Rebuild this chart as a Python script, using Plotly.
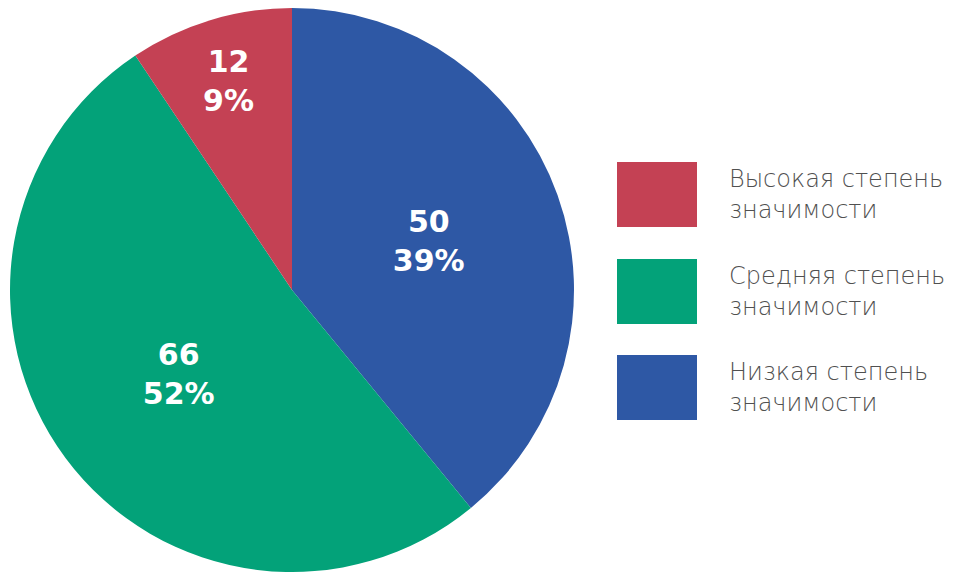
import plotly.graph_objects as go

labels = ["Низкая степень<br>значимости", "Средняя степень<br>значимости", "Высокая степень<br>значимости"]
values = [50, 66, 12]
colors = ["#2E58A5", "#03A279", "#C44154"]

W, H = 957, 572
T = 8

fig = go.Figure()
fig.add_trace(go.Pie(
    labels=labels,
    values=values,
    sort=False,
    direction="clockwise",
    rotation=0,
    marker=dict(colors=colors, line=dict(width=0)),
    texttemplate="%{value}<br>%{percent:.0%}",
    textposition="inside",
    insidetextorientation="horizontal",
    textfont=dict(family="DejaVu Sans", size=30, color="white", weight="bold"),
    domain=dict(x=[0, 584 / W], y=[0, 1]),
    showlegend=False,
    hoverinfo="label+value+percent",
))

# custom legend with large swatches (top to bottom: high, medium, low)
legend_tops = [162, 259, 355]
ph = H - T
for lab, col, top in zip(labels[::-1], colors[::-1], legend_tops):
    fig.add_shape(type="rect", xref="paper", yref="paper",
                  x0=617 / W, x1=697 / W,
                  y0=1 - (top + 65 - T) / ph, y1=1 - (top - T) / ph,
                  fillcolor=col, line=dict(width=0))
    fig.add_annotation(xref="paper", yref="paper",
                       x=727 / W, y=1 - (top + 32 - T) / ph,
                       xanchor="left", yanchor="middle", align="left",
                       text=lab, showarrow=False,
                       font=dict(family="DejaVu Sans", size=24, color="#505050", weight=200))

fig.update_layout(
    width=W, height=H,
    margin=dict(l=0, r=0, t=T, b=0),
    paper_bgcolor="white",
    plot_bgcolor="white",
)
fig.write_html("out.html")
